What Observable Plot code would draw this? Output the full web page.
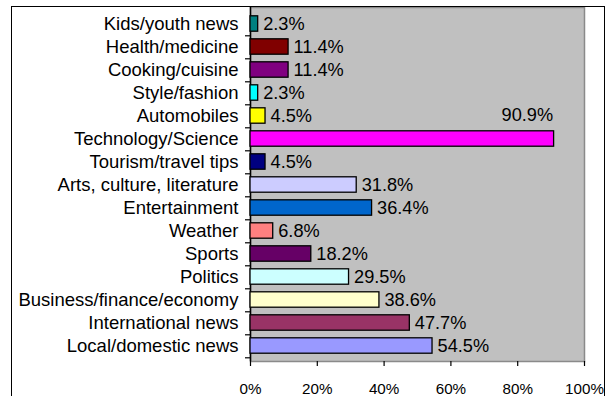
<!DOCTYPE html>
<html>
<head>
<meta charset="utf-8">
<script src="https://cdn.jsdelivr.net/npm/d3@7"></script>
<script src="https://cdn.jsdelivr.net/npm/@observablehq/plot@0.6"></script>
<style>
  html, body { margin: 0; padding: 0; background: #fff; }
  #wrap { position: relative; width: 607px; height: 396px; overflow: hidden; }
  #border { position: absolute; left: 11px; top: 6px; width: 594px; height: 420px;
            border: 1.5px solid #000; box-sizing: border-box; pointer-events: none; }
  svg { font-family: "Liberation Sans", Arial, sans-serif; }
</style>
</head>
<body>
<div id="wrap"><div id="border"></div></div>
<script>
const categories = [
  "Kids/youth news", "Health/medicine", "Cooking/cuisine", "Style/fashion",
  "Automobiles", "Technology/Science", "Tourism/travel tips",
  "Arts, culture, literature", "Entertainment", "Weather", "Sports",
  "Politics", "Business/finance/economy", "International news", "Local/domestic news"
];
const values = [2.3, 11.4, 11.4, 2.3, 4.5, 90.9, 4.5, 31.8, 36.4, 6.8, 18.2, 29.5, 38.6, 47.7, 54.5];
const colors = [
  "#008080", "#800000", "#800080", "#00FFFF", "#FFFF00", "#FF00FF", "#000080",
  "#CCCCFF", "#0066CC", "#FF8080", "#660066", "#CCFFFF", "#FFFFCC", "#993366", "#9999FF"
];
const xTicks = [0, 20, 40, 60, 80, 100];
const aboveLabel = ["Technology/Science"];

const data = categories.map((c, i) => ({category: c, value: values[i], color: colors[i]}));

const W = 607, H = 396, mT = 7, mB = 35, mL = 250, mR = 23;
const bw = (H - mT - mB) / categories.length;
const fmt = v => v.toFixed(1) + "%";

const chart = Plot.plot({
  width: W, height: H,
  marginTop: mT, marginBottom: mB, marginLeft: mL, marginRight: mR,
  style: {background: "transparent", fontFamily: "'Liberation Sans', Arial, sans-serif", color: "#000"},
  x: {domain: [0, 100]},
  y: {domain: categories, padding: 0},
  marks: [
    Plot.frame({fill: "#C0C0C0", stroke: "#8a8a8a", strokeWidth: 1.5}),
    Plot.axisY({tickSize: 0, tickPadding: 12, fontSize: 18.5, label: null}),
    Plot.axisY({text: null, tickSize: 5, dy: bw / 2, stroke: "#000", strokeWidth: 1.2, label: null}),
    Plot.axisX({ticks: xTicks, tickFormat: d => d + "%", tickSize: 5, tickPadding: 17, fontSize: 15.2, label: null, strokeWidth: 1.2}),
    Plot.ruleX([0], {stroke: "#000", strokeWidth: 1.5}),
    Plot.barX(data, {x: "value", y: "category", fill: "color", stroke: "#000", strokeWidth: 1.3, insetTop: 3.8, insetBottom: 3.8}),
    Plot.text(data.filter(d => !aboveLabel.includes(d.category)), {
      x: "value", y: "category", text: d => fmt(d.value), textAnchor: "start", dx: 5, fontSize: 18.2, fill: "#000"
    }),
    Plot.text(data.filter(d => aboveLabel.includes(d.category)), {
      x: "value", y: "category", text: d => fmt(d.value), textAnchor: "end", dx: -1, dy: -bw, fontSize: 18.2, fill: "#000"
    })
  ]
});
document.getElementById("wrap").insertBefore(chart, document.getElementById("border"));
</script>
</body>
</html>
